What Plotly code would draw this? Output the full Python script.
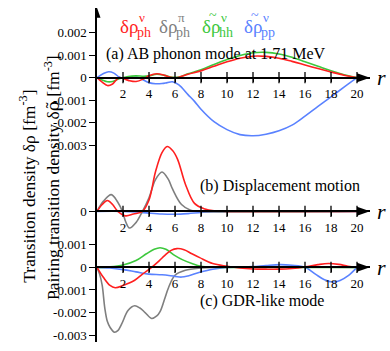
import plotly.graph_objects as go

# values in units of 0.001 fm^-3, r in fm
X_TICKS = [2, 4, 6, 8, 10, 12, 14, 16, 18, 20]

# (a) AB phonon mode
a_red_r = [0, 0.4, 0.8, 1.2, 1.7, 2.4, 3.0, 3.6, 4.0, 4.6, 5.2, 5.8, 6.3, 7, 8, 9, 10, 11, 12, 13, 14, 15, 16, 17, 18, 19, 20]
a_red_v = [0, -0.2, -0.35, -0.28, 0, -0.12, -0.17, -0.05, 0.08, 0.17, 0.1, 0.0, 0.02, 0.15, 0.3, 0.5, 0.7, 0.86, 0.95, 0.94, 0.86, 0.72, 0.56, 0.4, 0.25, 0.11, 0]
a_green_r = a_red_r
a_green_v = [0, -0.1, -0.18, -0.17, -0.05, 0.05, 0.08, 0.06, 0.08, 0.15, 0.1, 0.02, 0.03, 0.17, 0.35, 0.58, 0.8, 0.98, 1.1, 1.12, 1.05, 0.9, 0.7, 0.5, 0.3, 0.13, 0]
a_blue_r = [0, 0.5, 0.9, 1.3, 1.7, 2.2, 2.7, 3.1, 3.5, 4.0, 4.5, 5.0, 5.4, 5.8, 6.3, 7, 7.5, 8, 9, 10, 11, 12, 13, 14, 15, 16, 17, 18, 19, 20]
a_blue_v = [0, 0.18, 0.26, 0.2, 0.03, -0.05, 0.0, 0.02, -0.08, -0.22, -0.27, -0.26, -0.22, -0.18, -0.32, -0.75, -1.05, -1.4, -1.95, -2.3, -2.52, -2.57, -2.5, -2.35, -2.1, -1.7, -1.27, -0.85, -0.42, 0]

# (b) displacement motion
b_red_r = [0, 0.4, 0.8, 1.2, 1.6, 2.2, 2.8, 3.5, 4.0, 4.5, 5.0, 5.4, 5.8, 6.2, 6.8, 7.5, 8.3, 9, 10, 20]
b_red_v = [0, 0.3, 0.48, 0.3, 0, -0.2, -0.12, 0, 0.5, 1.75, 2.6, 2.87, 2.7, 2.3, 1.2, 0.35, 0.1, 0.02, 0, 0]
b_gray_r = [0, 0.5, 1.1, 1.6, 1.95, 2.2, 2.5, 3.0, 3.5, 4.0, 4.5, 5.0, 5.5, 5.8, 6.5, 7.2, 8, 20]
b_gray_v = [0, 0.45, 0.74, 0.4, 0, -0.45, -0.74, -0.5, 0, 0.6, 1.4, 1.74, 1.4, 1.0, 0.3, 0.05, 0, 0]
b_blue_r = [0, 2, 3, 4, 5, 6, 7, 8, 9, 10, 20]
b_blue_v = [0, 0, -0.03, -0.08, -0.12, -0.13, -0.1, -0.05, -0.02, 0, 0]

# (c) GDR-like mode
c_red_r = [0, 0.5, 1.0, 1.4, 2.0, 2.9, 3.5, 4.2, 4.8, 5.2, 5.7, 6.15, 6.7, 7.3, 7.9, 8.9, 10, 11, 12, 13, 14, 15, 16, 17, 17.8, 18.6, 19.3, 20]
c_red_v = [0, -0.45, -0.8, -0.9, -0.8, -0.57, -0.3, 0, 0.3, 0.52, 0.75, 0.83, 0.78, 0.6, 0.43, 0.17, 0.05, -0.03, -0.07, -0.08, -0.08, -0.05, 0.02, 0.12, 0.17, 0.13, 0.05, 0]
c_green_r = [0, 1, 2, 3, 3.8, 4.4, 4.85, 5.3, 6.0, 6.6, 7.3, 8, 9, 10, 20]
c_green_v = [0, 0.02, 0.1, 0.3, 0.6, 0.8, 0.87, 0.8, 0.52, 0.33, 0.17, 0.05, 0.01, 0, 0]
c_blue_r = [0, 1, 2, 3, 4, 5, 6, 6.5, 7, 7.9, 8.9, 10, 11, 12, 13, 14.1, 15, 16, 16.8, 17.5, 18.1, 18.7, 19.3, 20]
c_blue_v = [0, -0.03, -0.1, -0.2, -0.3, -0.33, -0.4, -0.43, -0.38, -0.22, -0.08, 0, 0.01, 0.03, 0.08, 0.12, 0.09, 0, -0.3, -0.55, -0.65, -0.58, -0.38, 0]
c_gray_r = [0, 0.2, 0.4, 0.6, 0.8, 1.0, 1.35, 1.6, 1.9, 2.4, 2.9, 3.3, 3.7, 4.2, 4.6, 4.85, 5.2, 5.5, 6.0, 6.8, 8, 9, 20]
c_gray_v = [0, -0.3, -0.8, -1.8, -2.4, -2.65, -2.87, -2.8, -2.5, -1.9, -1.7, -1.8, -2.0, -2.26, -2.15, -1.96, -1.4, -0.9, -0.35, -0.13, -0.03, 0, 0]

a_ticks = [2, 1, 0, -1, -2, -3]
a_ticktext = ["0.002", "0.001", "0", "-0.001", "-0.002", "-0.003"]
b_ticks = [0]
b_ticktext = ["0"]
c_ticks = [1, 0, -1, -2, -3]
c_ticktext = ["0.001", "0", "-0.001", "-0.002", "-0.003"]

RED = "#ff1f1f"
GRAY = "#7f7f7f"
GREEN = "#3dc83d"
BLUE = "#5a82ff"
FONT = "Liberation Serif"

W, H = 390, 351
PXU = 23.0  # pixels per 0.001


def py(p):
    return 1 - p / H


def yrange(top, bot, zero):
    return [-(bot - zero) / PXU, (zero - top) / PXU]


panels = [
    # top px, bottom px, zero px
    (8, 150, 79),
    (140, 235, 215),
    (235, 348, 272),
]

fig = go.Figure()


def add_line(r, v, color, i):
    sfx = "" if i == 0 else str(i + 1)
    fig.add_trace(go.Scatter(x=r, y=v, mode="lines", line=dict(color=color, width=1.6, shape="spline"),
                             xaxis="x" + sfx, yaxis="y" + sfx, showlegend=False, hoverinfo="skip"))


add_line(a_blue_r, a_blue_v, BLUE, 0)
add_line(a_green_r, a_green_v, GREEN, 0)
add_line(a_red_r, a_red_v, RED, 0)
add_line(b_blue_r, b_blue_v, BLUE, 1)
add_line(b_gray_r, b_gray_v, GRAY, 1)
add_line(b_red_r, b_red_v, RED, 1)
add_line(c_gray_r, c_gray_v, GRAY, 2)
add_line(c_blue_r, c_blue_v, BLUE, 2)
add_line(c_green_r, c_green_v, GREEN, 2)
add_line(c_red_r, c_red_v, RED, 2)

ticks = [(a_ticks, a_ticktext), (b_ticks, b_ticktext), (c_ticks, c_ticktext)]
layout = dict(width=W, height=H, margin=dict(l=0, r=0, t=0, b=0), paper_bgcolor="white",
              plot_bgcolor="white", showlegend=False, font=dict(family=FONT, color="black"))
shapes = []
annotations = []
for i, (top, bot, zero) in enumerate(panels):
    sfx = "" if i == 0 else str(i + 1)
    xname = "xaxis" + sfx
    yname = "yaxis" + sfx
    layout[yname] = dict(domain=[py(bot), py(top)], range=yrange(top, bot, zero), anchor="x" + sfx,
                         showline=True, linecolor="black", linewidth=1.5, showgrid=False, zeroline=False,
                         ticks="outside", ticklen=6, tickwidth=1.3, tickcolor="black",
                         tickvals=ticks[i][0], ticktext=ticks[i][1], tickfont=dict(family=FONT, size=13))
    layout[xname] = dict(domain=[97 / W, 370 / W], range=[0, 21], anchor="free", position=py(zero),
                         showline=True, linecolor="black", linewidth=1.5, showgrid=False, zeroline=False,
                         ticks="outside", ticklen=4, tickwidth=1.3, tickcolor="black",
                         tickvals=X_TICKS, tickfont=dict(family=FONT, size=13))
    fig.add_trace(go.Scatter(x=X_TICKS, y=[0] * len(X_TICKS), mode="markers",
                             marker=dict(symbol="line-ns", size=8, line=dict(color="black", width=1.3)),
                             xaxis="x" + sfx, yaxis="y" + sfx, showlegend=False, hoverinfo="skip"))
    shapes.append(dict(type="path", xref="x" + sfx, yref="y" + sfx, xsizemode="pixel", ysizemode="pixel",
                       xanchor=21, yanchor=0, path="M0,0 L-13,4.5 L-13,-4.5 Z",
                       fillcolor="black", line=dict(width=0)))
    annotations.append(dict(x=21, y=0, xref="x" + sfx, yref="y" + sfx, xshift=11, showarrow=False,
                            text="<i>r</i>", font=dict(family=FONT, size=22)))

# y arrow
shapes.append(dict(type="path", xref="x", yref="y", xsizemode="pixel", ysizemode="pixel",
                   xanchor=0, yanchor=yrange(*panels[0])[1], path="M0,0 L-3.5,-10 L3.5,-10 Z",
                   fillcolor="black", line=dict(width=0)))

# panel labels
annotations.append(dict(x=104 / W, y=py(44), xref="paper", yref="paper", xanchor="left", showarrow=False,
                        text="(a) AB phonon mode at 1.71 MeV", font=dict(size=16)))
annotations.append(dict(x=198 / W, y=py(189), xref="paper", yref="paper", xanchor="left", showarrow=False,
                        text="(b) Displacement motion", font=dict(size=16)))
annotations.append(dict(x=198 / W, y=py(317), xref="paper", yref="paper", xanchor="left", showarrow=False,
                        text="(c) GDR-like mode", font=dict(size=16)))

# y titles
annotations.append(dict(x=14 / W, y=py(190), xref="paper", yref="paper", textangle=-90, showarrow=False,
                        text="Transition density δρ [fm<sup>-3</sup>]", font=dict(size=17.5)))
annotations.append(dict(x=39 / W, y=py(181), xref="paper", yref="paper", textangle=-90, showarrow=False,
                        text="Pairing transition density δ<span style=\"font-family:'DejaVu Serif'\">ρ\u0303</span> [fm<sup>-3</sup>]",
                        font=dict(size=17.5)))

# series labels
labels = [("ν", "ph", RED, 118, False), ("π", "ph", GRAY, 157, False),
          ("ν", "hh", GREEN, 200, True), ("ν", "pp", BLUE, 242, True)]
for sup, sub, col, x0, tilde in labels:
    annotations.append(dict(x=x0 / W, y=py(14), xref="paper", yref="paper", xanchor="left", showarrow=False,
                            text="δρ", font=dict(size=19, color=col)))
    if tilde:
        annotations.append(dict(x=(x0 + 13) / W, y=py(6), xref="paper", yref="paper", xanchor="center",
                                showarrow=False, text="~", font=dict(size=14, color=col)))
    annotations.append(dict(x=(x0 + 19) / W, y=py(8), xref="paper", yref="paper", xanchor="left",
                            showarrow=False, text=sup, font=dict(size=13, color=col)))
    annotations.append(dict(x=(x0 + 17) / W, y=py(23), xref="paper", yref="paper", xanchor="left",
                            showarrow=False, text=sub, font=dict(size=14, color=col)))

layout["shapes"] = shapes
layout["annotations"] = annotations
fig.update_layout(**layout)
fig.write_html("out.html", config={"displayModeBar": False},
               post_script="document.body.style.margin='0';")
